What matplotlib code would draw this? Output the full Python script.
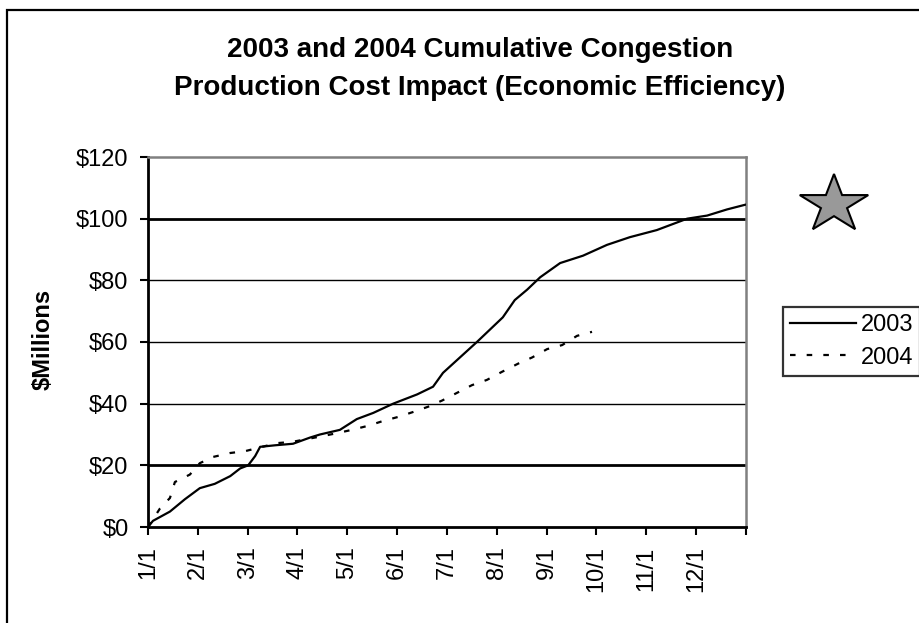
import matplotlib
matplotlib.use("Agg")
import matplotlib.pyplot as plt
import numpy as np
from matplotlib.patches import Polygon, Rectangle

plt.rcParams['font.family'] = ['Liberation Sans', 'DejaVu Sans']

# x positions are in months since 1/1 (0 = 1/1, 12 = end of year)
x2003 = [0.00, 0.10, 0.44, 0.74, 1.04, 1.34, 1.65, 1.85, 2.01, 2.15, 2.25, 2.55,
         2.91, 3.25, 3.45, 3.85, 4.19, 4.52, 4.92, 5.40, 5.72, 5.92, 6.26, 6.60,
         6.86, 7.12, 7.36, 7.61, 7.87, 8.27, 8.73, 9.21, 9.67, 10.21, 10.82,
         11.22, 11.62, 11.98]
y2003 = [0.0, 2.0, 5.0, 9.0, 12.6, 14.0, 16.5, 19.0, 20.0, 23.0, 26.0, 26.5,
         27.0, 29.0, 30.0, 31.5, 35.0, 37.0, 40.0, 43.0, 45.5, 50.0, 55.0, 60.0,
         64.0, 68.0, 73.6, 77.0, 81.0, 85.6, 88.0, 91.5, 94.0, 96.3, 100.0,
         101.0, 103.0, 104.5]

x2004 = [0.00, 0.24, 0.44, 0.54, 0.84, 1.04, 1.30, 1.65, 1.95, 2.29, 2.59, 2.89,
         3.51, 3.81, 4.09, 4.41, 4.72, 5.02, 5.32, 5.62, 5.90, 6.20, 6.50, 6.80,
         7.10, 7.43, 7.71, 8.01, 8.31, 8.61, 8.91]
y2004 = [0.0, 6.0, 9.4, 14.6, 17.0, 20.7, 22.7, 24.0, 24.6, 26.0, 27.2, 27.6,
         29.5, 30.5, 31.5, 32.8, 34.4, 35.7, 37.3, 39.0, 41.0, 43.5, 46.0, 47.7,
         50.3, 53.0, 55.0, 57.7, 59.0, 62.0, 63.3]

month_labels = ['1/1', '2/1', '3/1', '4/1', '5/1', '6/1', '7/1', '8/1', '9/1',
                '10/1', '11/1', '12/1']
y_ticks = [0, 20, 40, 60, 80, 100, 120]
y_labels = ['$0', '$20', '$40', '$60', '$80', '$100', '$120']
title_lines = ['2003 and 2004 Cumulative Congestion',
               'Production Cost Impact (Economic Efficiency)']
series_names = ['2003', '2004']

W, H = 920, 623
fig = plt.figure(figsize=(W / 100, H / 100), dpi=100)
fig.patch.set_facecolor('white')

# outer chart border (extends beyond right/bottom edge)
fig.add_artist(Rectangle((7 / W, -0.05), 1.2, 1 - 10 / H + 0.05,
                         transform=fig.transFigure, fill=False,
                         edgecolor='black', linewidth=1.6, zorder=0))

ax = fig.add_axes([148 / W, 1 - 527 / H, 598 / W, 370 / H])
ax.set_xlim(0, 12)
ax.set_ylim(0, 120)

# gridlines
for v in y_ticks[1:-1]:
    ax.axhline(v, color='black', linewidth=2.0 if v in (20, 100) else 1.0, zorder=1)

l1, = ax.plot(x2003, y2003, color='black', linewidth=1.6, zorder=3,
              label=series_names[0])
l2, = ax.plot(x2004, y2004, color='black', linewidth=1.6, zorder=3,
              linestyle=(0, (2.5, 5)), label=series_names[1])

ax.set_yticks(y_ticks)
ax.set_yticklabels(y_labels)
ax.set_xticks(range(13))
ax.set_xticklabels(month_labels + [''], rotation=90)
ax.tick_params(axis='y', direction='out', length=6, width=1.5, pad=8,
               labelsize=17)
ax.tick_params(axis='x', direction='out', length=6, width=1.5, pad=8,
               labelsize=17)

for s in ['left', 'bottom']:
    ax.spines[s].set_color('black')
    ax.spines[s].set_linewidth(2.0)
for s in ['top', 'right']:
    ax.spines[s].set_color('#808080')
    ax.spines[s].set_linewidth(1.8)

# title
fig.text(480 / W, 1 - 57 / H, title_lines[0], ha='center', va='baseline',
         fontsize=20, fontweight='bold')
fig.text(480 / W, 1 - 95 / H, title_lines[1], ha='center', va='baseline',
         fontsize=20, fontweight='bold')

# y label
fig.text(43 / W, 1 - 339 / H, '$Millions', rotation=90, ha='center',
         va='center', fontsize=17, fontweight='bold')

# legend
leg = fig.legend(handles=[l1, l2], loc='upper left',
                 bbox_to_anchor=(783 / W, 1 - 307 / H), fontsize=17,
                 frameon=True, fancybox=False, shadow=False,
                 handlelength=2.8, handletextpad=0.2, borderpad=0.3,
                 labelspacing=0.45, borderaxespad=0)
leg.get_frame().set_edgecolor('black')
leg.get_frame().set_linewidth(1.6)

# star decoration
cx, cy, rx, ry = 834, 204.5, 36, 30.5
pts = []
for k in range(10):
    ang = np.pi / 2 + k * np.pi / 5
    r = 1.0 if k % 2 == 0 else 0.382
    pts.append(((cx + rx * r * np.cos(ang)) / W,
                1 - (cy - ry * r * np.sin(ang)) / H))
fig.add_artist(Polygon(pts, closed=True, transform=fig.transFigure,
                       facecolor='#999999', edgecolor='black', linewidth=1.5))

fig.savefig('out.png', dpi=100)
